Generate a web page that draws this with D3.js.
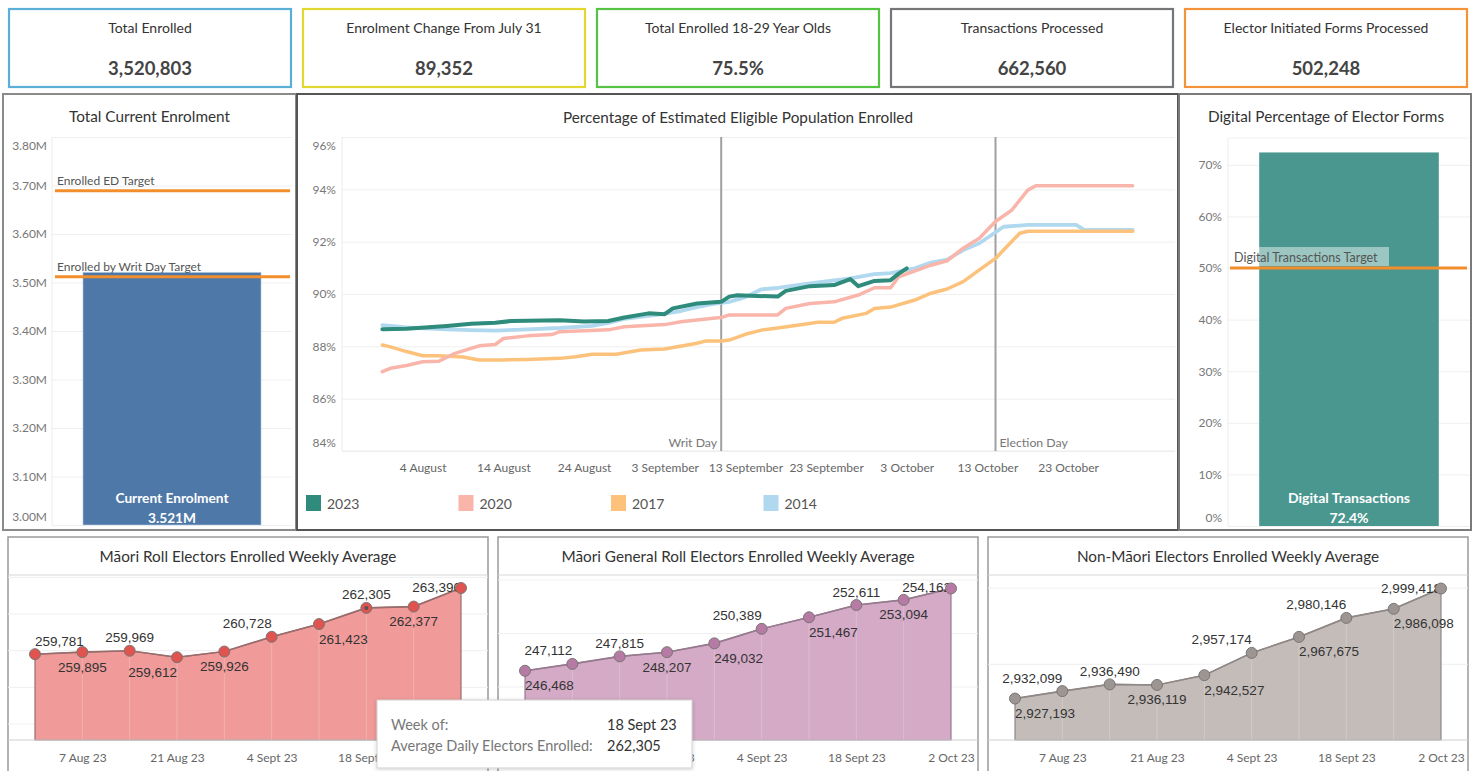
<!DOCTYPE html>
<html><head><meta charset="utf-8">
<script src="https://cdn.jsdelivr.net/npm/d3@7"></script>
<style>body{margin:0;background:#fff}svg{display:block}</style>
</head><body>
<svg id="c" width="1476" height="771"></svg>
<script>
// ---------------- DATA ----------------
const kpiTitles = ["Total Enrolled","Enrolment Change From July 31","Total Enrolled 18-29 Year Olds","Transactions Processed","Elector Initiated Forms Processed"];
const kpiValues = ["3,520,803","89,352","75.5%","662,560","502,248"];

const enrolCategory = ["Current Enrolment"];
const currentEnrolment = [3521000];
const enrolTicks = [3.0e6,3.1e6,3.2e6,3.3e6,3.4e6,3.5e6,3.6e6,3.7e6,3.8e6];
const enrolTargetNames = ["Enrolled ED Target","Enrolled by Writ Day Target"];
const enrolTargetValues = [3689000, 3512000];

const pctYears = ["2023","2020","2017","2014"];
const pct2023 = [["07-30",88.65],["08-02",88.67],["08-07",88.78],["08-10",88.86],["08-13",88.9],["08-15",88.97],["08-21",89.0],["08-24",88.95],["08-27",88.97],["08-29",89.1],["09-01",89.26],["09-03",89.23],["09-04",89.45],["09-07",89.64],["09-10",89.7],["09-11",89.9],["09-12",89.95],["09-17",89.9],["09-18",90.12],["09-21",90.3],["09-24",90.34],["09-26",90.57],["09-27",90.3],["09-29",90.5],["10-01",90.53],["10-02",90.78],["10-03",90.98]];
const pct2020 = [["07-30",87.03],["07-31",87.16],["08-02",87.27],["08-04",87.41],["08-06",87.43],["08-08",87.73],["08-11",88.02],["08-13",88.07],["08-14",88.3],["08-17",88.4],["08-20",88.45],["08-21",88.56],["08-27",88.63],["08-29",88.75],["09-03",88.83],["09-05",88.94],["09-09",89.07],["09-10",89.1],["09-11",89.2],["09-17",89.2],["09-18",89.45],["09-21",89.64],["09-24",89.7],["09-27",89.96],["09-29",90.24],["10-01",90.24],["10-02",90.66],["10-06",91.1],["10-08",91.27],["10-10",91.75],["10-12",92.13],["10-14",92.77],["10-16",93.2],["10-18",93.97],["10-19",94.14],["10-31",94.14]];
const pct2017 = [["07-30",88.05],["07-31",87.98],["08-02",87.8],["08-04",87.64],["08-06",87.64],["08-09",87.59],["08-11",87.48],["08-14",87.48],["08-17",87.5],["08-21",87.54],["08-23",87.6],["08-25",87.7],["08-28",87.7],["08-31",87.86],["09-03",87.9],["09-07",88.12],["09-08",88.2],["09-10",88.2],["09-11",88.24],["09-13",88.46],["09-15",88.62],["09-17",88.7],["09-19",88.79],["09-22",88.92],["09-24",88.92],["09-25",89.07],["09-28",89.26],["09-29",89.45],["10-01",89.5],["10-04",89.77],["10-06",90.03],["10-08",90.19],["10-10",90.47],["10-12",90.92],["10-14",91.36],["10-15",91.68],["10-17",92.32],["10-18",92.4],["10-31",92.4]];
const pct2014 = [["07-30",88.81],["08-02",88.72],["08-07",88.65],["08-10",88.62],["08-13",88.6],["08-17",88.65],["08-21",88.7],["08-25",88.78],["08-27",88.9],["08-29",89.05],["09-02",89.2],["09-05",89.35],["09-07",89.5],["09-09",89.62],["09-11",89.7],["09-13",89.88],["09-15",90.18],["09-17",90.23],["09-21",90.41],["09-23",90.48],["09-26",90.6],["09-29",90.76],["10-01",90.8],["10-04",90.98],["10-06",91.2],["10-08",91.31],["10-10",91.68],["10-12",91.94],["10-14",92.36],["10-15",92.57],["10-18",92.64],["10-24",92.64],["10-25",92.45],["10-31",92.45]];
const pctTicks = [84,86,88,90,92,94,96];
const pctDateTicks = ["08-04","08-14","08-24","09-03","09-13","09-23","10-03","10-13","10-23"];
const refDates = ["09-10","10-14"];
const refNames = ["Writ Day","Election Day"];

const digitalCategory = ["Digital Transactions"];
const digitalPct = [0.724];
const digitalTicks = [0,0.1,0.2,0.3,0.4,0.5,0.6,0.7];
const digitalTargetName = "Digital Transactions Target";
const digitalTarget = 0.5;

const weeks = ["07-31","08-07","08-14","08-21","08-28","09-04","09-11","09-18","09-25","10-02"];
const weekTickDates = ["08-07","08-21","09-04","09-18","10-02"];
const weekTickLabels = ["7 Aug 23","21 Aug 23","4 Sept 23","18 Sept 23","2 Oct 23"];
const maoriRoll = [259781,259895,259969,259612,259926,260728,261423,262305,262377,263390];
const maoriGeneral = [246468,247112,247815,248207,249032,250389,251467,252611,253094,254162];
const nonMaori = [2927193,2932099,2936490,2936119,2942527,2957174,2967675,2980146,2986098,2999418];
const weeklyTitles = ["Māori Roll Electors Enrolled Weekly Average","Māori General Roll Electors Enrolled Weekly Average","Non-Māori Electors Enrolled Weekly Average"];
const tooltipLabels = ["Week of:","Average Daily Electors Enrolled:"];

// ---------------- STYLE / LAYOUT ----------------
const FONT = "Lato, 'Open Sans', sans-serif";
const NUM = "'Liberation Sans', Arial, sans-serif";
const svg = d3.select("#c");
const parse = s => d3.timeParse("%Y-%m-%d")("2023-" + s);
const fmtNum = d3.format(",");

// KPI boxes
const kpiBorders = ["#5aafd6","#e2d630","#55c444","#767676","#f3943a"];
const kpiX = d3.scaleLinear().domain([0,4]).range([8,1184]);
kpiTitles.forEach((t,i)=>{
  const x0 = kpiX(i), w = 284;
  svg.append("rect").attr("x",x0+1).attr("y",9).attr("width",w-2).attr("height",78)
    .attr("fill","#fff").attr("stroke",kpiBorders[i]).attr("stroke-width",2.2);
  svg.append("text").attr("x",x0+w/2).attr("y",27).attr("text-anchor","middle").attr("dominant-baseline","central")
    .attr("font-family",FONT).attr("font-size",14).attr("fill","#333").text(t);
  svg.append("text").attr("x",x0+w/2).attr("y",68).attr("text-anchor","middle").attr("dominant-baseline","central")
    .attr("font-family",FONT).attr("font-weight",700).attr("font-size",18.5).attr("fill","#444").text(kpiValues[i]);
});

// panel frames
function frame(x,y,w,h,stroke,sw){
  svg.append("rect").attr("x",x).attr("y",y).attr("width",w).attr("height",h)
    .attr("fill","#fff").attr("stroke",stroke).attr("stroke-width",sw);
}
frame(3,94,293,436,"#8a8a8a",2);
frame(297,94,881,436,"#555",2);
frame(1179,94,292,436,"#7a7a7a",2);

function title(x,y,t){
  svg.append("text").attr("x",x).attr("y",y).attr("text-anchor","middle").attr("dominant-baseline","central")
    .attr("font-family",FONT).attr("font-size",15.3).attr("fill","#333").text(t);
}

function yAxis(g, scale, ticks, fmt, width, pad, shiftEnds){
  const ax = d3.axisLeft(scale).tickValues(ticks).tickFormat(fmt).tickSize(-width).tickPadding(pad);
  g.call(ax);
  g.select(".domain").remove();
  g.selectAll(".tick line").attr("stroke","#efefef").attr("stroke-width",1);
  g.selectAll(".tick text").attr("font-family",FONT).attr("font-size",12).attr("fill","#777");
  if (shiftEnds){
    const dom = scale.domain();
    g.selectAll(".tick text").attr("transform", d => d===dom[0] ? "translate(0,-8)" : (d===dom[1] ? "translate(0,8.5)" : null));
  }
}

// ---------- Panel 1: Total Current Enrolment ----------
title(149.5,116,"Total Current Enrolment");
{
  const L=52, R=292, T=137, B=525;
  const y = d3.scaleLinear().domain([3.0e6,3.8e6]).range([B,T]);
  const x = d3.scaleBand().domain(enrolCategory).range([L,R]).paddingInner(0.148).paddingOuter(0.148);
  const g = svg.append("g").attr("transform",`translate(${L},0)`);
  yAxis(g, y, enrolTicks, d=>d3.format(".2f")(d/1e6)+"M", R-L, 5, true);
  svg.append("line").attr("x1",L).attr("x2",L).attr("y1",T).attr("y2",B).attr("stroke","#ececec");
  svg.selectAll(".bar1").data(currentEnrolment).enter().append("rect")
    .attr("x",x(enrolCategory[0])).attr("width",x.bandwidth())
    .attr("y",d=>y(d)).attr("height",d=>B-y(d)).attr("fill","#4e78a8")
    .attr("stroke","rgba(200,220,240,0.7)").attr("stroke-width",0.8);
  const cx = x(enrolCategory[0]) + x.bandwidth()/2;
  svg.append("text").attr("x",cx).attr("y",497).attr("text-anchor","middle").attr("dominant-baseline","central")
    .attr("font-family",FONT).attr("font-weight",700).attr("font-size",13.7).attr("fill","#fff").text(enrolCategory[0]);
  svg.append("text").attr("x",cx).attr("y",517).attr("text-anchor","middle").attr("dominant-baseline","central")
    .attr("font-family",FONT).attr("font-weight",700).attr("font-size",13.7).attr("fill","#fff").text(d3.format(".3f")(currentEnrolment[0]/1e6)+"M");
  enrolTargetValues.forEach((v,i)=>{
    svg.append("line").attr("x1",55).attr("x2",290).attr("y1",y(v)).attr("y2",y(v)).attr("stroke","#f28e2b").attr("stroke-width",3);
    svg.append("text").attr("x",57).attr("y",y(v)-10).attr("dominant-baseline","central")
      .attr("font-family",FONT).attr("font-size",12).attr("fill","#555").text(enrolTargetNames[i]);
  });
}

// ---------- Panel 2: Percentage line chart ----------
title(738,117,"Percentage of Estimated Eligible Population Enrolled");
{
  const L=342, R=1175, T=137, B=451;
  const x = d3.scaleTime().domain([parse("07-25"),parse("11-05")]).range([342,1173]);
  const y = d3.scaleLinear().domain([84,96]).range([B,T]);
  const g = svg.append("g").attr("transform",`translate(${L},0)`);
  yAxis(g, y, pctTicks, d=>d+"%", R-L, 6, true);
  svg.append("line").attr("x1",L).attr("x2",L).attr("y1",T).attr("y2",B).attr("stroke","#ececec");
  svg.append("line").attr("x1",L).attr("x2",R).attr("y1",B).attr("y2",B).attr("stroke","#ececec");
  const gx = svg.append("g").attr("transform",`translate(0,${B})`);
  gx.call(d3.axisBottom(x).tickValues(pctDateTicks.map(parse)).tickFormat(d3.timeFormat("%-d %B")).tickSize(0).tickPadding(12));
  gx.select(".domain").remove();
  gx.selectAll(".tick text").attr("font-family",FONT).attr("font-size",12).attr("fill","#666");

  refDates.forEach((d,i)=>{
    const xx = x(parse(d));
    svg.append("line").attr("x1",xx).attr("x2",xx).attr("y1",T).attr("y2",B).attr("stroke","#a0a0a0").attr("stroke-width",2);
    svg.append("text").attr("x", i===0 ? xx-4 : xx+4).attr("y",442).attr("text-anchor", i===0?"end":"start")
      .attr("dominant-baseline","central").attr("font-family",FONT).attr("font-size",12.3).attr("fill","#777").text(refNames[i]);
  });

  const series = {"2023":pct2023,"2020":pct2020,"2017":pct2017,"2014":pct2014};
  const colors = {"2023":"#2f8b7b","2020":"#fab5ab","2017":"#fcc27c","2014":"#b0d8ef"};
  const widths = {"2023":4,"2020":3.5,"2017":3.5,"2014":3.8};
  const line = d3.line().x(d=>x(parse(d[0]))).y(d=>y(d[1]));
  ["2014","2017","2020","2023"].forEach(k=>{
    svg.append("path").datum(series[k]).attr("d",line).attr("fill","none")
      .attr("stroke",colors[k]).attr("stroke-width",widths[k]).attr("stroke-linejoin","round").attr("stroke-linecap","round");
  });
  const lx = d3.scalePoint().domain(pctYears).range([306, 306+3*152.5]);
  pctYears.forEach(k=>{
    svg.append("rect").attr("x",lx(k)).attr("y",495).attr("width",15).attr("height",16).attr("fill",colors[k]);
    svg.append("text").attr("x",lx(k)+21).attr("y",503).attr("dominant-baseline","central")
      .attr("font-family",FONT).attr("font-size",14).attr("fill","#555").text(k);
  });
}

// ---------- Panel 3: Digital Percentage ----------
title(1326,116,"Digital Percentage of Elector Forms");
{
  const L=1228, R=1470, T=138, B=526;
  const y = d3.scaleLinear().domain([0,0.752]).range([B,T]);
  const x = d3.scaleBand().domain(digitalCategory).range([L,R]).paddingInner(0.148).paddingOuter(0.148);
  const g = svg.append("g").attr("transform",`translate(${L},0)`);
  yAxis(g, y, digitalTicks, d3.format(".0%"), R-L, 6, false);
  g.selectAll(".tick text").attr("transform", d => d===0 ? "translate(0,-8)" : null);
  svg.append("line").attr("x1",L).attr("x2",L).attr("y1",T).attr("y2",B).attr("stroke","#ececec");
  svg.append("line").attr("x1",L).attr("x2",R).attr("y1",T).attr("y2",T).attr("stroke","#f2f2f2");
  svg.selectAll(".bar3").data(digitalPct).enter().append("rect")
    .attr("x",x(digitalCategory[0])).attr("width",x.bandwidth())
    .attr("y",d=>y(d)).attr("height",d=>B-y(d)).attr("fill","#4a978f");
  const cx = x(digitalCategory[0]) + x.bandwidth()/2;
  svg.append("text").attr("x",cx).attr("y",497).attr("text-anchor","middle").attr("dominant-baseline","central")
    .attr("font-family",FONT).attr("font-weight",700).attr("font-size",14).attr("fill","#fff").text(digitalCategory[0]);
  svg.append("text").attr("x",cx).attr("y",517).attr("text-anchor","middle").attr("dominant-baseline","central")
    .attr("font-family",FONT).attr("font-weight",700).attr("font-size",14).attr("fill","#fff").text(d3.format(".1%")(digitalPct[0]));
  svg.append("line").attr("x1",1230).attr("x2",1467).attr("y1",y(digitalTarget)).attr("y2",y(digitalTarget)).attr("stroke","#f28e2b").attr("stroke-width",3);
  svg.append("rect").attr("x",1232).attr("y",y(digitalTarget)-21).attr("width",157).attr("height",19).attr("fill","#fff").attr("opacity",0.45);
  svg.append("text").attr("x",1234).attr("y",y(digitalTarget)-11).attr("dominant-baseline","central")
    .attr("font-family",FONT).attr("font-size",12.5).attr("fill","#555").text(digitalTargetName);
}

// ---------- Bottom weekly panels ----------
const weeklyPanels = [
  {x0:8,  data:maoriRoll,    dom:[255100,264100], grid:[256000,258000,260000,262000,264000], fill:"#f09a99", line:"#9a6d6d", pt:"#e0534f", place:["as","bm","am","be","bm","ae","bs","am","bm","se"], hideTicks:["10-02"]},
  {x0:498,data:maoriGeneral, dom:[240000,255420], grid:[245000,250000,255000], fill:"#d4aac6", line:"#967b8e", pt:"#b77aa4", place:["bs","ae","am","bm","bs","ae","bs","am","bm","se"], hideTicks:["08-07"]},
  {x0:988,data:nonMaori,     dom:[2900000,3008300], grid:[2950000,3000000], fill:"#c4bcb9", line:"#8f8886", pt:"#9d9592", place:["bs","ae","am","bm","bs","ae","bs","ae","bs","se"], hideTicks:[]}
];
const defs = svg.append("defs");
const f = defs.append("filter").attr("id","sh").attr("x","-10%").attr("y","-20%").attr("width","120%").attr("height","150%");
f.append("feDropShadow").attr("dx",0).attr("dy",1).attr("stdDeviation",2).attr("flood-color","#000").attr("flood-opacity",0.18);

weeklyPanels.forEach((p,pi)=>{
  const W=480, T=575, B=740;
  svg.append("rect").attr("x",p.x0).attr("y",537).attr("width",W).attr("height",250).attr("fill","#fff").attr("stroke","#9a9a9a").attr("stroke-width",1.5);
  title(p.x0+W/2,556,weeklyTitles[pi]);
  svg.append("line").attr("x1",p.x0).attr("x2",p.x0+W).attr("y1",T).attr("y2",T).attr("stroke","#d6d6d6");
  const x = d3.scaleTime().domain([parse(weeks[0]),parse(weeks[weeks.length-1])]).range([p.x0+27,p.x0+453]);
  const y = d3.scaleLinear().domain(p.dom).range([B,T]);
  const gy = svg.append("g").attr("transform",`translate(${p.x0},0)`);
  gy.call(d3.axisLeft(y).tickValues(p.grid).tickSize(-W).tickFormat(""));
  gy.select(".domain").remove();
  gy.selectAll(".tick line").attr("stroke","#efefef");
  const pts = weeks.map((w,i)=>({d:parse(w), v:p.data[i]}));
  const area = d3.area().x(d=>x(d.d)).y0(B).y1(d=>y(d.v));
  svg.append("path").datum(pts).attr("d",area).attr("fill",p.fill).attr("stroke",p.line).attr("stroke-width",1.2);
  svg.selectAll(null).data(pts.slice(1,-1)).enter().append("line")
    .attr("x1",d=>x(d.d)).attr("x2",d=>x(d.d)).attr("y1",d=>y(d.v)+6).attr("y2",B)
    .attr("stroke","#fff").attr("stroke-opacity",0.22);
  const line = d3.line().x(d=>x(d.d)).y(d=>y(d.v));
  svg.append("path").datum(pts).attr("d",line).attr("fill","none").attr("stroke",p.line).attr("stroke-width",1.6);
  svg.append("line").attr("x1",p.x0).attr("x2",p.x0+W).attr("y1",B).attr("y2",B).attr("stroke","#cfcfcf");
  pts.forEach((d,i)=>{
    const pl = p.place[i];
    const dy = pl[0]==="a" ? -13 : (pl[0]==="b" ? 15 : -0.5);
    const anchor = pl[1]==="s" ? "start" : (pl[1]==="e" ? "end" : "middle");
    svg.append("text").attr("x",x(d.d)).attr("y",y(d.v)+dy).attr("text-anchor",anchor).attr("dominant-baseline","central")
      .attr("font-family",NUM).attr("font-size",13.5).attr("fill","#333").text(fmtNum(d.v));
  });
  svg.selectAll(null).data(pts).enter().append("circle")
    .attr("cx",d=>x(d.d)).attr("cy",d=>y(d.v)).attr("r",5.5)
    .attr("fill",p.pt).attr("stroke","#777").attr("stroke-width",1);
  const shown = weekTickDates.filter(d=>!p.hideTicks.includes(d));
  const gx = svg.append("g").attr("transform",`translate(0,${B})`);
  gx.call(d3.axisBottom(x).tickValues(shown.map(parse)).tickFormat((d,i)=>weekTickLabels[weekTickDates.indexOf(shown[i])]).tickSize(0).tickPadding(13.5));
  gx.select(".domain").remove();
  gx.selectAll(".tick text").attr("font-family",FONT).attr("font-size",12).attr("fill","#666");
  p.x = x; p.y = y;
});

// tooltip (hover on Māori Roll week of 18 Sept)
{
  const p = weeklyPanels[0];
  const i = weeks.indexOf("09-18");
  svg.append("circle").attr("cx",p.x(parse(weeks[i]))).attr("cy",p.y(maoriRoll[i])).attr("r",2).attr("fill","#555");
  svg.append("rect").attr("x",377).attr("y",700).attr("width",315).attr("height",68).attr("fill","#fff")
    .attr("stroke","#cfcfcf").attr("filter","url(#sh)");
  const tt = (x,y,fill,t)=>svg.append("text").attr("x",x).attr("y",y).attr("dominant-baseline","central")
    .attr("font-family",FONT).attr("font-size",14.5).attr("fill",fill).text(t);
  tt(391,724,"#777",tooltipLabels[0]);
  tt(391,745,"#777",tooltipLabels[1]);
  tt(607,724,"#333",weekTickLabels[weekTickDates.indexOf(weeks[i])]);
  tt(607,745,"#333",fmtNum(maoriRoll[i]));
}
</script>
</body></html>
